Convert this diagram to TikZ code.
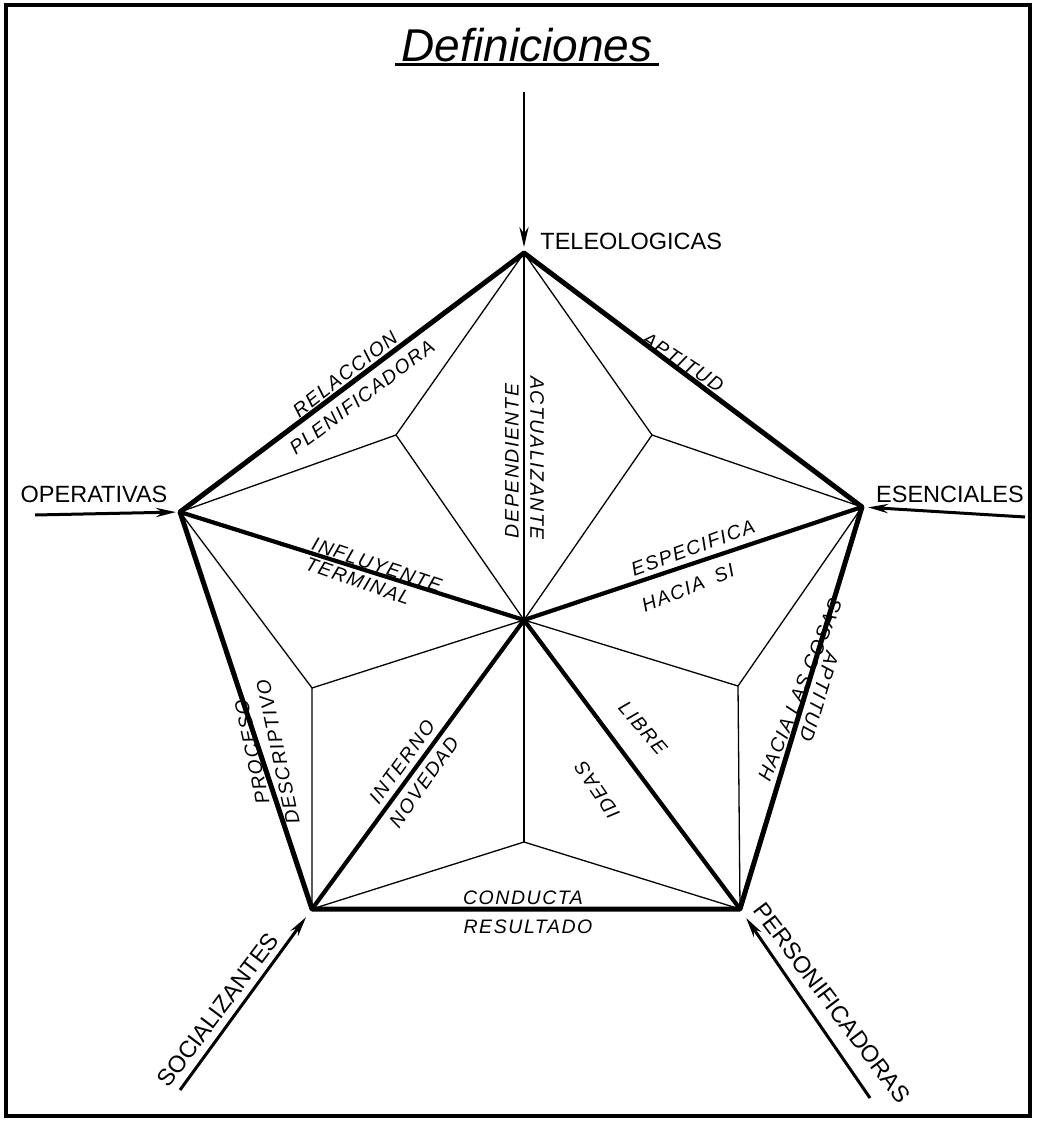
\documentclass[tikz,border=0pt]{standalone}
\usepackage{fontspec}
\setmainfont{Liberation Sans}
\newfontfamily\lblfont[LetterSpace=8]{Liberation Sans}
\usetikzlibrary{arrows.meta}
\begin{document}
\begin{tikzpicture}[x=0.5pt,y=-0.5pt,
  frame/.style={line width=1.8pt},
  outeredge/.style={line width=2.5pt, line cap=round, line join=round},
  spoke/.style={line width=2.1pt, line cap=round},
  midspoke/.style={line width=1.2pt},
  thinline/.style={line width=0.65pt, line join=round},
  inarrow/.style={line width=1.5pt, -{Stealth[length=10pt,width=4.6pt]}},
  toparrow/.style={line width=1pt, -{Stealth[length=10pt,width=4.6pt]}},
  big/.style={font=\fontsize{11.75}{12}\selectfont, inner sep=0pt},
  lbl/.style={font=\lblfont\itshape\fontsize{9.75}{10}\selectfont, inner sep=0pt},
]
\useasboundingbox (0,0) rectangle (1045,1122);
\draw[frame] (6,5) rectangle (1030,1116);

% title
\node[font=\itshape\fontsize{23}{24}\selectfont, inner sep=0pt, anchor=base] (title) at (527,62) {Definiciones};
\draw[line width=1.5pt] ([xshift=-3pt,yshift=-1.3pt]title.base west) -- ([xshift=3pt,yshift=-1.3pt]title.base east);

% vertices
\coordinate (T) at (524,253);
\coordinate (L) at (180,512);
\coordinate (R) at (862,507);
\coordinate (BL) at (312,909);
\coordinate (BR) at (740,909);
\coordinate (C) at (524,620);
% inner points
\coordinate (P1) at (396,435);
\coordinate (P2) at (652,435);
\coordinate (P3) at (312,688);
\coordinate (P4) at (738,686);
\coordinate (P5) at (524,842);
% arrow tails
\coordinate (tT) at (524,92);
\coordinate (tL) at (35,515);
\coordinate (tR) at (1025,517);
\coordinate (tBL) at (180,1090);
\coordinate (tBR) at (870,1098);

% thin kite lines
\draw[thinline] (C) -- (P1); \draw[thinline] (T) -- (P1) -- (L);
\draw[thinline] (C) -- (P2); \draw[thinline] (T) -- (P2) -- (R);
\draw[thinline] (C) -- (P3); \draw[thinline] (L) -- (P3) -- (BL);
\draw[thinline] (C) -- (P4); \draw[thinline] (R) -- (P4) -- (BR);
\draw[thinline] (C) -- (P5); \draw[thinline] (BL) -- (P5) -- (BR);

% spokes
\draw[midspoke] (C) -- (T);
\draw[spoke] (C) -- (L);
\draw[spoke] (C) -- (R);
\draw[spoke] (C) -- (BL);
\draw[spoke] (C) -- (BR);

% outer pentagon
\draw[outeredge] (T) -- (L) -- (BL) -- (BR) -- (R) -- cycle;

% arrows
\draw[toparrow, shorten >=3pt] (tT) -- (T);
\draw[inarrow, shorten >=2pt] (tL) -- (L);
\draw[inarrow, shorten >=3pt] (tR) -- (R);
\draw[inarrow, shorten >=5pt] (tBL) -- (BL);
\draw[inarrow, shorten >=5.5pt] (tBR) -- (BR);

% main labels
\node[big, anchor=west] (teleo) at (540,241) {TELEOLOGICAS};
\node[big] (oper) at (94,494) {OPERATIVAS};
\node[big] (esen) at (950,494) {ESENCIALES};
\node[big, rotate=53] (social) at (218,1010) {SOCIALIZANTES};
\node[big, rotate=-53] (person) at (832,1003) {PERSONIFICADORAS};

% edge labels
\node[lbl, rotate=38] (relac) at (345,374) {RELACCION};
\node[lbl, rotate=37] (plenif) at (362,397) {PLENIFICADORA};
\node[lbl, rotate=-33] (apt1) at (683,362) {APTITUD};
\node[lbl, rotate=90] (depend) at (512,461) {DEPENDIENTE};
\node[lbl, rotate=-90] (actual) at (537,458) {ACTUALIZANTE};
\node[lbl, rotate=-18.5] (influ) at (377,565) {INFLUYENTE};
\node[lbl, rotate=-19.5] (termin) at (358,581) {TERMINAL};
\node[lbl, rotate=20] (especif) at (693,548) {ESPECIFICA};
\node[lbl, rotate=22] (haciasi) at (688,588) {HACIA\hspace{6pt}SI};
\node[lbl, rotate=102] (proceso) at (252,752) {PROCESO};
\node[lbl, rotate=102] (descrip) at (278,752) {DESCRIPTIVO};
\node[lbl, rotate=54] (interno) at (402,762) {INTERNO};
\node[lbl, rotate=55] (noved) at (424,782) {NOVEDAD};
\node[lbl, rotate=-49] (libre) at (643,728) {LIBRE};
\node[lbl, rotate=124] (ideas) at (597,790) {IDEAS};
\node[lbl, rotate=68] (cosas) at (800,690) {HACIA LAS COSAS};
\node[lbl, rotate=-107] (apt2) at (819,697) {APTITUD};
\node[lbl] (conducta) at (523,898) {CONDUCTA};
\node[lbl] (result) at (528,927) {RESULTADO};
\end{tikzpicture}
\end{document}
